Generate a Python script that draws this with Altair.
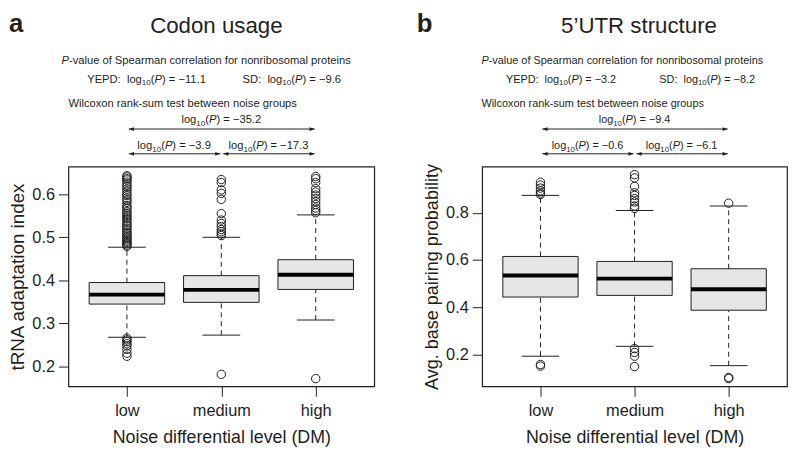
import altair as alt
import pandas as pd

# ---- data --------------------------------------------------------------------
GROUPS = ["low", "medium", "high"]
POSITIONS = [1, 2, 3]

# panel a: tRNA adaptation index
codon_lower = [0.268, 0.273, 0.308]
codon_q1 = [0.345, 0.349, 0.379]
codon_median = [0.367, 0.378, 0.413]
codon_q3 = [0.395, 0.411, 0.448]
codon_upper = [0.477, 0.500, 0.552]
codon_out_low = [0.643, 0.640, 0.636, 0.633, 0.628, 0.622, 0.618, 0.612, 0.607,
                 0.601, 0.597, 0.591, 0.586, 0.581, 0.574, 0.570, 0.566, 0.560,
                 0.556, 0.551, 0.547, 0.543, 0.538, 0.534, 0.529, 0.526, 0.521,
                 0.517, 0.512, 0.509, 0.505, 0.501, 0.498, 0.494, 0.491, 0.488,
                 0.485, 0.482, 0.479, 0.266, 0.262, 0.258, 0.253, 0.248, 0.240,
                 0.231, 0.224]
codon_out_medium = [0.634, 0.627, 0.610, 0.602, 0.588, 0.555, 0.540, 0.532,
                    0.525, 0.518, 0.513, 0.508, 0.504, 0.182]
codon_out_high = [0.641, 0.636, 0.627, 0.613, 0.605, 0.598, 0.590, 0.583,
                  0.576, 0.568, 0.562, 0.557, 0.172]
codon_spearman = ["−11.1", "−9.6"]          # YEPD, SD
codon_wilcoxon = ["−35.2", "−3.9", "−17.3"]  # low-high, low-medium, medium-high

# panel b: average base pairing probability
utr_lower = [0.192, 0.234, 0.152]
utr_q1 = [0.443, 0.450, 0.387]
utr_median = [0.534, 0.521, 0.476]
utr_q3 = [0.615, 0.594, 0.563]
utr_upper = [0.874, 0.810, 0.829]
utr_out_low = [0.930, 0.918, 0.905, 0.893, 0.884, 0.878, 0.157, 0.150]
utr_out_medium = [0.962, 0.948, 0.912, 0.885, 0.874, 0.860, 0.846, 0.829,
                  0.819, 0.224, 0.208, 0.192, 0.148]
utr_out_high = [0.841, 0.102, 0.097]
utr_spearman = ["−3.2", "−8.2"]
utr_wilcoxon = ["−9.4", "−0.6", "−6.1"]

# ---- styling -----------------------------------------------------------------
INK = "#231f20"
BOX_FILL = "#e6e6e6"
FONT = "Liberation Sans"
XTITLE = "Noise differential level (DM)"
PLOT_H = 222

# Arial / Liberation Sans advance widths (per em) for the annotation glyphs
ADV = {" ": 0.278, "(": 0.333, ")": 0.333, "-": 0.333, ".": 0.278, ":": 0.278,
       "=": 0.584, "−": 0.584, "l": 0.222, "o": 0.556, "g": 0.556, "Y": 0.667,
       "E": 0.667, "P": 0.667, "D": 0.722, "S": 0.667}


def text_width(s, size):
    return sum(ADV.get(c, 0.556) for c in s) * size


def log_pieces(value, prefix=None):
    pieces = []
    if prefix:
        pieces += [(prefix, "n"), ("", "gap")]
    return pieces + [("log", "n"), ("10", "s"), ("(", "n"), ("P", "i"),
                     (") = " + value, "n")]


def rich_text(pieces, size, y, X, px=None, center=None):
    """Lay out mixed normal / italic / subscript pieces as separate text marks."""
    widths = []
    for t, kind in pieces:
        if kind == "gap":
            widths.append(0.55 * size)
        elif kind == "s":
            widths.append(text_width(t, size * 0.72))
        else:
            widths.append(text_width(t, size))
    off = -sum(widths) / 2 if center is not None else 0
    layers = []
    for (t, kind), w in zip(pieces, widths):
        if kind != "gap":
            props = dict(text=t, align="left", baseline="alphabetic", color=INK,
                         fontSize=size * 0.72 if kind == "s" else size,
                         dy=3 if kind == "s" else 0,
                         fontStyle="italic" if kind == "i" else "normal")
            if center is None:
                layers.append(
                    alt.Chart(pd.DataFrame({"k": [0]}))
                    .mark_text(**props)
                    .encode(x=alt.value(px + off), y=alt.value(y))
                )
            else:
                layers.append(
                    alt.Chart(pd.DataFrame({"pos": [center]}))
                    .mark_text(dx=off, **props)
                    .encode(x=X("pos"), y=alt.value(y))
                )
        off += w
    return layers


def panel(letter, title, title_x, ytitle, ytitle_size, lower, q1, med, q3, upper,
          outliers, yticks, ydomain, spearman, wilcoxon, small, p_x, yepd_x, sd_x,
          width):
    xscale = alt.Scale(domain=[0.38, 3.62], nice=False, zero=False)
    label_expr = "[" + ",".join(["''"] + [f"'{g}'" for g in GROUPS]) + "][datum.value]"
    xaxis = alt.Axis(values=POSITIONS, labelExpr=label_expr, tickSize=10,
                     labelPadding=6, titlePadding=10)
    yscale = alt.Scale(domain=ydomain, nice=False, zero=False)
    yaxis = alt.Axis(values=yticks, format=".1f", tickSize=10, labelPadding=4,
                     titlePadding=4, titleFontSize=ytitle_size)

    def X(field):
        return alt.X(f"{field}:Q", scale=xscale, axis=xaxis, title=XTITLE)

    def Y(field):
        return alt.Y(f"{field}:Q", scale=yscale, axis=yaxis, title=ytitle)

    stats = pd.DataFrame({"group": GROUPS, "pos": POSITIONS, "lower": lower,
                          "q1": q1, "median": med, "q3": q3, "upper": upper})
    stats["left"] = stats["pos"] - 0.4
    stats["right"] = stats["pos"] + 0.4
    stats["cap_l"] = stats["pos"] - 0.2
    stats["cap_r"] = stats["pos"] + 0.2

    out = pd.DataFrame([{"pos": p, "value": v}
                        for p, vals in zip(POSITIONS, outliers) for v in vals])

    base = alt.Chart(stats)
    whisk_hi = base.mark_rule(color=INK, strokeDash=[5, 4], strokeWidth=1).encode(
        x=X("pos"), y=Y("q3"), y2="upper")
    whisk_lo = base.mark_rule(color=INK, strokeDash=[5, 4], strokeWidth=1).encode(
        x=X("pos"), y=Y("lower"), y2="q1")
    cap_hi = base.mark_rule(color=INK, strokeWidth=1).encode(
        x=X("cap_l"), x2="cap_r", y=Y("upper"))
    cap_lo = base.mark_rule(color=INK, strokeWidth=1).encode(
        x=X("cap_l"), x2="cap_r", y=Y("lower"))
    box = base.mark_rect(fill=BOX_FILL, stroke=INK, strokeWidth=1).encode(
        x=X("left"), x2="right", y=Y("q1"), y2="q3")
    median = base.mark_rule(color="black", strokeWidth=4).encode(
        x=X("left"), x2="right", y=Y("median"))
    points = alt.Chart(out).mark_point(
        shape="circle", filled=False, size=72, color=INK, strokeWidth=1, opacity=1
    ).encode(x=X("pos"), y=Y("value"))

    layers = [whisk_hi, whisk_lo, cap_hi, cap_lo, box, median, points]

    # panel letter and heading
    layers.append(alt.Chart(pd.DataFrame({"k": [0]})).mark_text(
        text=letter, fontSize=26, fontWeight="bold", align="left", color=INK,
        baseline="alphabetic").encode(x=alt.value(p_x[0]), y=alt.value(-136)))
    layers.append(alt.Chart(pd.DataFrame({"k": [0]})).mark_text(
        text=title, fontSize=22.5, align="center", color=INK,
        baseline="alphabetic").encode(x=alt.value(title_x), y=alt.value(-134.7)))

    # Spearman block
    layers += rich_text([("P", "i"), ("-value of Spearman correlation for "
                                      "nonribosomal proteins", "n")],
                        small, -104, X, px=p_x[1])
    layers += rich_text(log_pieces(spearman[0], "YEPD:"), small, -85, X, px=yepd_x)
    layers += rich_text(log_pieces(spearman[1], "SD:"), small, -85, X, px=sd_x)

    # Wilcoxon block
    layers += rich_text([("Wilcoxon rank-sum test between noise groups", "n")],
                        small, -60.2, X, px=p_x[2])
    layers += rich_text(log_pieces(wilcoxon[0]), small, -43.7, X, center=2)
    layers += rich_text(log_pieces(wilcoxon[1]), small, -18.2, X, center=1.5)
    layers += rich_text(log_pieces(wilcoxon[2]), small, -18.2, X, center=2.5)

    arrows = pd.DataFrame({"pos": [1.02, 1.02, 2.02], "end": [2.99, 1.99, 2.99],
                           "row": ["top", "bottom", "bottom"]})
    for row, ypx in [("top", -38), ("bottom", -13)]:
        seg = alt.Chart(arrows[arrows["row"] == row])
        layers.append(seg.mark_rule(color=INK, strokeWidth=1).encode(
            x=X("pos"), x2="end", y=alt.value(ypx)))
        layers.append(seg.mark_point(
            shape="M0,0L1,-0.36L1,0.36Z", filled=True, size=110, color=INK,
            opacity=1).encode(x=X("pos"), y=alt.value(ypx)))
        layers.append(seg.mark_point(
            shape="M0,0L-1,-0.36L-1,0.36Z", filled=True, size=110, color=INK,
            opacity=1).encode(x=X("end"), y=alt.value(ypx)))

    return alt.layer(*layers).properties(width=width, height=PLOT_H)


left = panel("a", "Codon usage", 149.5, "tRNA adaptation index", 19,
             codon_lower, codon_q1, codon_median, codon_q3, codon_upper,
             [codon_out_low, codon_out_medium, codon_out_high],
             [0.2, 0.3, 0.4, 0.5, 0.6], [0.154, 0.664],
             codon_spearman, codon_wilcoxon, 11.3,
             p_x=(-60, -7, 0), yepd_x=19, sd_x=176, width=309)

right = panel("b", "5’UTR structure", 158.5, "Avg. base pairing probability", 18.2,
              utr_lower, utr_q1, utr_median, utr_q3, utr_upper,
              [utr_out_low, utr_out_medium, utr_out_high],
              [0.2, 0.4, 0.6, 0.8], [0.064, 0.996],
              utr_spearman, utr_wilcoxon, 11.0,
              p_x=(-66, -0.7, -0.7), yepd_x=24, sd_x=179, width=308)

chart = (
    alt.hconcat(left, right, spacing=41)
    .properties(padding=0)
    .configure(font=FONT)
    .configure_view(stroke=INK, strokeWidth=1.2)
    .configure_axis(grid=False, domain=False, tickColor=INK, tickWidth=1,
                    labelColor=INK, titleColor=INK, labelFontSize=16.5,
                    titleFontSize=18, titleFontWeight="normal", labelFont=FONT,
                    titleFont=FONT)
)

chart.save("out.html", embed_options={"renderer": "svg", "actions": False})
